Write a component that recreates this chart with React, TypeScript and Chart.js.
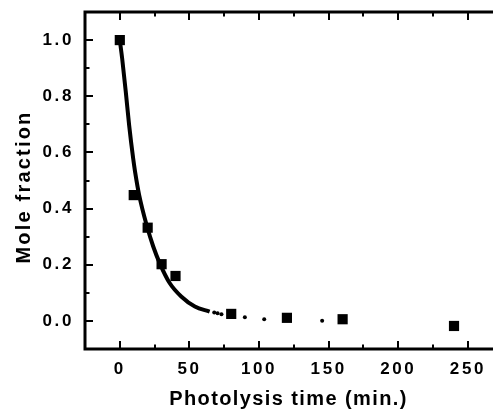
import React, { useEffect, useRef } from 'react';
import { Chart, registerables } from 'chart.js';

Chart.register(...registerables);

// Measured samples (squares)
const sampleTimes = [0, 10, 20, 30, 40, 80, 120, 160, 240];
const sampleFractions = [1.0, 0.448, 0.332, 0.202, 0.16, 0.025, 0.011, 0.006, -0.018];

// Fitted decay curve (solid part)
const fitTimes = [0, 1.7, 4.3, 6.7, 9.6, 11, 13.9, 19.6, 24, 28.7, 35.9, 44.3, 53.9, 64.5];
const fitFractions = [1.0, 0.934, 0.815, 0.697, 0.578, 0.53, 0.448, 0.335, 0.265, 0.205, 0.134, 0.086, 0.051, 0.033];

// Fitted curve tail (drawn as sparse dots)
const tailTimes = [67.8, 70.2, 73, 89.8, 103.7, 145.3];
const tailFractions = [0.03, 0.027, 0.024, 0.013, 0.006, 0.001];

// Axis ticks
const xTickValues = [0, 50, 100, 150, 200, 250];
const xMinorTickValues = [25, 75, 125, 175, 225];
const yTickValues = [0, 0.2, 0.4, 0.6, 0.8, 1.0];
const yMinorTickValues = [0.1, 0.3, 0.5, 0.7, 0.9];

const xTitle = 'Photolysis time (min.)';
const yTitle = 'Mole fraction';

const FONT = '"Liberation Sans", Arial, Helvetica, sans-serif';

const zeroPadding = (s: any) => {
  s.paddingLeft = 0;
  s.paddingRight = 0;
  s.paddingTop = 0;
  s.paddingBottom = 0;
};

const framePlugin = {
  id: 'frameAndTitles',
  beforeDraw(chart: any) {
    chart.ctx.letterSpacing = '2.6px';
  },
  afterDraw(chart: any) {
    const ctx = chart.ctx;
    const { left, top, right, bottom } = chart.chartArea;
    const xs = chart.scales.x;
    const ys = chart.scales.y;
    ctx.save();
    ctx.letterSpacing = '0px';
    ctx.strokeStyle = '#000';
    ctx.lineCap = 'butt';
    ctx.lineWidth = 3;
    ctx.beginPath();
    ctx.moveTo(right + 5, top);
    ctx.lineTo(left, top);
    ctx.lineTo(left, bottom);
    ctx.lineTo(right + 5, bottom);
    ctx.stroke();

    ctx.lineWidth = 2;
    const drawX = (v: number, len: number) => {
      const px = Math.round(xs.getPixelForValue(v));
      ctx.beginPath();
      ctx.moveTo(px, bottom);
      ctx.lineTo(px, bottom - len);
      ctx.moveTo(px, top);
      ctx.lineTo(px, top + len);
      ctx.stroke();
    };
    const drawY = (v: number, len: number) => {
      const py = Math.round(ys.getPixelForValue(v));
      ctx.beginPath();
      ctx.moveTo(left, py);
      ctx.lineTo(left + len, py);
      ctx.stroke();
    };
    xTickValues.forEach((v) => drawX(v, 8));
    xMinorTickValues.forEach((v) => drawX(v, 4.5));
    yTickValues.forEach((v) => drawY(v, 8));
    yMinorTickValues.forEach((v) => drawY(v, 4.5));

    // Axis titles
    ctx.fillStyle = '#000';
    ctx.font = `bold 20px ${FONT}`;
    ctx.letterSpacing = '1.4px';
    ctx.textAlign = 'center';
    ctx.textBaseline = 'alphabetic';
    ctx.fillText(xTitle, 288.5, 405);

    ctx.save();
    ctx.translate(30, 187);
    ctx.rotate(-Math.PI / 2);
    ctx.letterSpacing = '2.2px';
    ctx.fillText(yTitle, 0, 0);
    ctx.restore();

    ctx.restore();
  },
};

export default function App() {
  const canvasRef = useRef<HTMLCanvasElement | null>(null);

  useEffect(() => {
    if (!canvasRef.current) return;
    const tickFont = { family: FONT, size: 17, weight: 'bold' as const };
    const chart = new Chart(canvasRef.current, {
      type: 'scatter',
      data: {
        datasets: [
          {
            label: 'fit',
            data: fitTimes.map((t, i) => ({ x: t, y: fitFractions[i] })),
            showLine: true,
            borderColor: '#000',
            backgroundColor: '#000',
            borderWidth: 4,
            pointRadius: 0,
            cubicInterpolationMode: 'monotone',
            fill: false,
          } as any,
          {
            label: 'fit tail',
            data: tailTimes.map((t, i) => ({ x: t, y: tailFractions[i] })),
            showLine: false,
            pointStyle: 'circle',
            pointRadius: 2,
            backgroundColor: '#000',
            borderWidth: 0,
          },
          {
            label: 'measured',
            data: sampleTimes.map((t, i) => ({ x: t, y: sampleFractions[i] })),
            showLine: false,
            pointStyle: 'rect',
            pointRadius: 7.2,
            backgroundColor: '#000',
            borderColor: '#000',
            borderWidth: 0,
          },
        ],
      },
      options: {
        responsive: false,
        animation: false,
        layout: { autoPadding: false, padding: { top: 12, right: 0, left: 0, bottom: 0 } },
        plugins: { legend: { display: false }, tooltip: { enabled: false } },
        scales: {
          x: {
            type: 'linear',
            min: -25,
            max: 268,
            grid: { display: false },
            border: { display: false },
            afterBuildTicks: (s: any) => {
              s.ticks = xTickValues.map((v) => ({ value: v }));
            },
            afterFit: (s: any) => {
              s.height = 60;
              zeroPadding(s);
            },
            ticks: {
              padding: 2,
              color: '#000',
              font: tickFont,
              maxRotation: 0,
              autoSkip: false,
              callback: (v: any) => String(v),
            },
          },
          y: {
            type: 'linear',
            min: -0.1,
            max: 1.1,
            grid: { display: false },
            border: { display: false },
            afterBuildTicks: (s: any) => {
              s.ticks = yTickValues.map((v) => ({ value: v }));
            },
            afterFit: (s: any) => {
              s.width = 85;
              zeroPadding(s);
            },
            ticks: {
              padding: 3,
              color: '#000',
              font: tickFont,
              autoSkip: false,
              callback: (v: any) => Number(v).toFixed(1),
            },
          },
        },
      },
      plugins: [framePlugin],
    });
    return () => chart.destroy();
  }, []);

  return (
    <div style={{ position: 'fixed', left: 0, top: 0, width: 493, height: 409, background: '#fff' }}>
      <canvas ref={canvasRef} width={493} height={409} style={{ display: 'block' }} />
    </div>
  );
}
